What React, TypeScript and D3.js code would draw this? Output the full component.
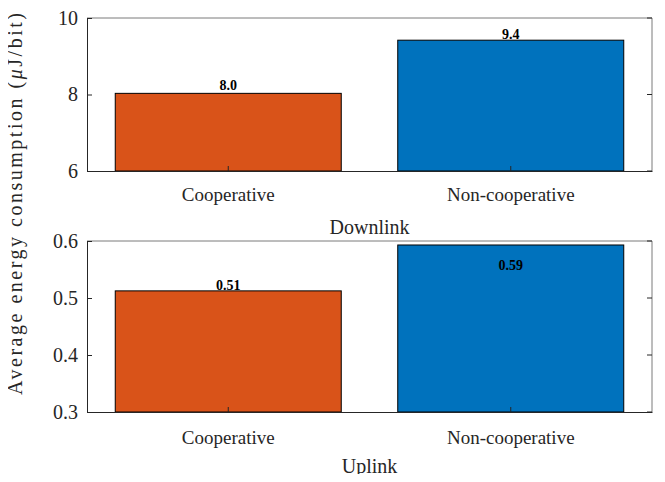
import React, { useRef, useEffect } from 'react';
import * as d3 from 'd3';

const categories = ['Cooperative', 'Non-cooperative'];
const downlinkValues = [8.03, 9.42];
const downlinkLabels = ['8.0', '9.4'];
const uplinkValues = [0.5125, 0.593];
const uplinkLabels = ['0.51', '0.59'];
const downlinkTicks = [6, 8, 10];
const uplinkTicks = [0.3, 0.4, 0.5, 0.6];
const barColors = ['#D95319', '#0072BD'];

const FONT = '"Liberation Serif", "Times New Roman", serif';

const App: React.FC = () => {
  const ref = useRef<SVGSVGElement>(null);

  useEffect(() => {
    const svg = d3.select(ref.current);
    svg.selectAll('*').remove();

    const left = 87;
    const right = 652;

    const panels = [
      {
        top: 18, bottom: 171, domain: [6, 10], ticks: downlinkTicks, fmt: d3.format('d'),
        values: downlinkValues, labels: downlinkLabels, labelDy: [-3, -1],
        title: 'Downlink', catY: 201, titleY: 234,
      },
      {
        top: 241, bottom: 412, domain: [0.3, 0.6], ticks: uplinkTicks, fmt: d3.format('.1f'),
        values: uplinkValues, labels: uplinkLabels, labelDy: [-1, 25],
        title: 'Uplink', catY: 444, titleY: 473,
      },
    ];

    const x = d3.scaleBand<string>()
      .domain(categories)
      .range([left, right])
      .paddingInner(0.2)
      .paddingOuter(0.1);

    panels.forEach((p) => {
      const y = d3.scaleLinear().domain(p.domain).range([p.bottom, p.top]);
      const g = svg.append('g');

      // bars
      g.selectAll('rect.bar')
        .data(p.values)
        .enter()
        .append('rect')
        .attr('x', (_, i) => x(categories[i]) || 0)
        .attr('y', (d) => y(d))
        .attr('width', x.bandwidth())
        .attr('height', (d) => p.bottom - y(d))
        .attr('fill', (_, i) => barColors[i])
        .attr('stroke', '#000')
        .attr('stroke-width', 1);

      // box
      g.append('line').attr('x1', left).attr('x2', right).attr('y1', p.top).attr('y2', p.top)
        .attr('stroke', '#7a7a7a');
      g.append('line').attr('x1', right).attr('x2', right).attr('y1', p.top).attr('y2', p.bottom)
        .attr('stroke', '#7a7a7a');

      // y axis (ticks inward)
      const yAxis = g.append('g')
        .attr('transform', `translate(${left},0)`)
        .call(d3.axisLeft(y).tickValues(p.ticks).tickFormat((d) => p.fmt(d as number)).tickSize(-5).tickPadding(9));
      yAxis.select('.domain').attr('stroke', '#262626');
      yAxis.selectAll('.tick line').attr('stroke', '#262626');
      yAxis.selectAll('.tick text')
        .attr('font-family', FONT)
        .attr('font-size', 20)
        .attr('fill', '#262626');

      // right side ticks
      g.selectAll('line.rtick')
        .data(p.ticks)
        .enter()
        .append('line')
        .attr('x1', right)
        .attr('x2', right - 5)
        .attr('y1', (d) => y(d))
        .attr('y2', (d) => y(d))
        .attr('stroke', '#262626');

      // x axis
      const xAxis = g.append('g')
        .attr('transform', `translate(0,${p.bottom})`)
        .call(d3.axisBottom(x).tickSize(-5).tickSizeOuter(0).tickFormat(() => ''));
      xAxis.select('.domain').attr('stroke', '#262626');
      xAxis.selectAll('.tick line').attr('stroke', '#262626');

      g.selectAll('text.cat')
        .data(categories)
        .enter()
        .append('text')
        .attr('x', (d) => (x(d) || 0) + x.bandwidth() / 2)
        .attr('y', p.catY)
        .attr('text-anchor', 'middle')
        .attr('font-family', FONT)
        .attr('font-size', 19)
        .attr('fill', '#262626')
        .text((d) => d);

      g.append('text')
        .attr('x', (left + right) / 2)
        .attr('y', p.titleY)
        .attr('text-anchor', 'middle')
        .attr('font-family', FONT)
        .attr('font-size', 20)
        .attr('fill', '#262626')
        .text(p.title);

      // value labels
      g.selectAll('text.val')
        .data(p.values)
        .enter()
        .append('text')
        .attr('x', (_, i) => (x(categories[i]) || 0) + x.bandwidth() / 2)
        .attr('y', (d, i) => y(d) + p.labelDy[i])
        .attr('text-anchor', 'middle')
        .attr('font-family', FONT)
        .attr('font-size', 14)
        .attr('font-weight', 'bold')
        .attr('fill', '#000')
        .text((_, i) => p.labels[i]);
    });

    // shared y label
    const yl = svg.append('text')
      .attr('transform', 'translate(22,204) rotate(-90)')
      .attr('text-anchor', 'middle')
      .attr('font-family', FONT)
      .attr('font-size', 20)
      .attr('textLength', 382)
      .attr('lengthAdjust', 'spacing')
      .attr('fill', '#262626');
    yl.append('tspan').text('Average energy consumption (');
    yl.append('tspan').attr('font-style', 'italic').text('μ');
    yl.append('tspan').text('J/bit)');
  }, []);

  return (
    <div style={{ margin: -8 }}>
      <svg ref={ref} width={665} height={482} style={{ display: 'block', background: '#fff' }} />
    </div>
  );
};

export default App;
